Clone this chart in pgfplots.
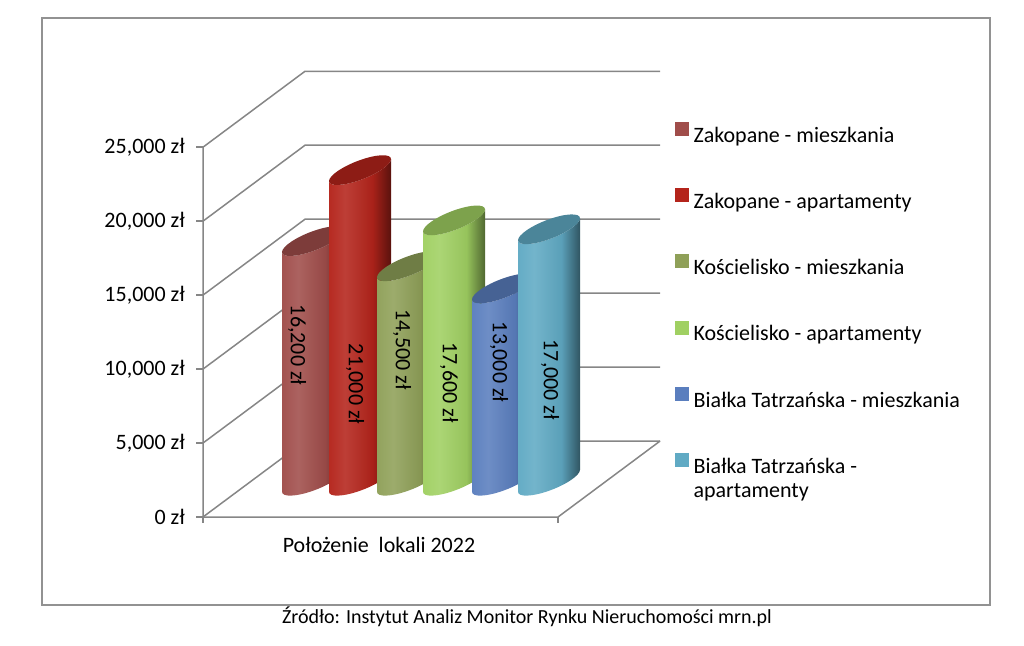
\documentclass[border=0pt]{standalone}
\usepackage{fontspec}
\setmainfont{Carlito}
\usepackage{pgfplots}
\pgfplotsset{compat=1.18}
\definecolor{cA}{RGB}{160,77,74}
\definecolor{cB}{RGB}{180,36,27}
\definecolor{cC}{RGB}{143,160,88}
\definecolor{cD}{RGB}{160,208,98}
\definecolor{cE}{RGB}{90,126,190}
\definecolor{cF}{RGB}{96,170,196}
\definecolor{gridc}{RGB}{134,134,134}
\newcommand\lblfont{\fontsize{22}{27}\selectfont}
\newcommand\mkshade[2]{\pgfdeclarehorizontalshading{#1}{100bp}{color(0bp)=(#2); color(25bp)=(#2!97!white); color(38bp)=(#2!88!white); color(60bp)=(#2!94!black); color(75bp)=(#2!50!black); color(100bp)=(#2!50!black)}}
\mkshade{shA}{cA}\mkshade{shB}{cB}\mkshade{shC}{cC}
\mkshade{shD}{cD}\mkshade{shE}{cE}\mkshade{shF}{cF}
\newcommand\cyl[4]{%
 \begingroup\pgfkeys{/pgf/fpu=true,/pgf/fpu/output format=fixed}\pgfmathparse{\rawy*0.014793}\xdef\cylh{\pgfmathresult}\endgroup
 \pgfmathsetmacro\cyly{-#3*\cylh}%
 \shade[shading=#1,draw=none] (-31pt,-11pt) -- (-31pt,{-11pt-\cylh pt}) .. controls (-31pt,{-16.52pt-\cylh pt}) and (-17.12pt,{-16.08pt-\cylh pt}) .. (0pt,{-10pt-\cylh pt}) .. controls (17.12pt,{-3.93pt-\cylh pt}) and (31pt,{5.48pt-\cylh pt}) .. (31pt,{11pt-\cylh pt}) -- (31pt,11pt) .. controls (31pt,5.48pt) and (17.12pt,-3.93pt) .. (0pt,-10pt) .. controls (-17.12pt,-16.08pt) and (-31pt,-16.52pt) .. (-31pt,-11pt) -- cycle;
 \fill[#2,draw=none] (-31pt,-11pt) .. controls (-31pt,-16.52pt) and (-17.12pt,-16.08pt) .. (0pt,-10pt) .. controls (17.12pt,-3.93pt) and (31pt,5.48pt) .. (31pt,11pt) .. controls (31pt,16.52pt) and (17.12pt,16.08pt) .. (0pt,10pt) .. controls (-17.12pt,3.93pt) and (-31pt,-5.48pt) .. (-31pt,-11pt) -- cycle;
 \node[rotate=-90,inner sep=0pt,font=\lblfont,text=black] at (#4pt,\cyly pt) {\pgfmathprintnumber[assume math mode=true,1000 sep={,}]{\rawy}~zł};
}
\pgfdeclareplotmark{cylA}{\cyl{shA}{cA!78!black}{0.434}{-16}}
\pgfdeclareplotmark{cylB}{\cyl{shB}{cB!78!black}{0.689}{-5}}
\pgfdeclareplotmark{cylC}{\cyl{shC}{cC!78!black}{0.389}{-6}}
\pgfdeclareplotmark{cylD}{\cyl{shD}{cD!78!black}{0.624}{-5}}
\pgfdeclareplotmark{cylE}{\cyl{shE}{cE!78!black}{0.383}{-4}}
\pgfdeclareplotmark{cylF}{\cyl{shF}{cF!78!black}{0.599}{1}}
\pgfplotsset{cylplot/.style 2 args={scatter, only marks, mark=#1,
  scatter/use mapped color={draw=none,fill=none},
  visualization depends on={rawy \as \rawy},
  legend image code/.code={\fill[#2] (-1pt,2pt) rectangle (12pt,15pt);}}}
\begin{document}
\begin{tikzpicture}[font=\lblfont]
\path[use as bounding box] (0pt,0pt) rectangle (1024pt,645pt);
\draw[gridc!90, line width=2pt] (42pt,40pt) rectangle (990pt,627pt);
\begin{axis}[at={(203pt,128pt)}, anchor=south west, scale only axis,
  width=457pt, height=446pt, xmin=0, xmax=457, ymin=-2450, ymax=27700,
  clip=false, axis line style={draw=none}, major tick length=0pt,
  tick style={draw=none}, scaled y ticks=false, scaled x ticks=false,
  ytick={-2450,2550,7550,12550,17550,22550},
  yticklabels={{0 zł},{5,000 zł},{10,000 zł},{15,000 zł},{20,000 zł},{25,000 zł}},
  yticklabel style={anchor=east, inner sep=0pt, xshift=-18pt},
  xtick={176}, xticklabels={Położenie\ \ lokali 2022},
  xticklabel style={anchor=north, inner sep=0pt, yshift=-20pt},
  point meta min=0, point meta max=30000,
  legend cell align=left,
  legend style={at={(1.0328,0.886)}, anchor=north west, draw=none, fill=none,
    inner sep=0pt, row sep=40pt, column sep=5pt,
    nodes={inner sep=0pt, text height=16pt, text depth=6pt}},
]
% back wall and floor
\draw[gridc, line width=1.5pt] (axis cs:0,-2450) -- (axis cs:102,2681) -- (axis cs:457,2681);
\draw[gridc, line width=1.5pt] (axis cs:0,2550) -- (axis cs:102,7681) -- (axis cs:457,7681);
\draw[gridc, line width=1.5pt] (axis cs:0,7550) -- (axis cs:102,12681) -- (axis cs:457,12681);
\draw[gridc, line width=1.5pt] (axis cs:0,12550) -- (axis cs:102,17681) -- (axis cs:457,17681);
\draw[gridc, line width=1.5pt] (axis cs:0,17550) -- (axis cs:102,22681) -- (axis cs:457,22681);
\draw[gridc, line width=1.5pt] (axis cs:0,22550) -- (axis cs:102,27681) -- (axis cs:457,27681);
\draw[gridc, line width=1.5pt] (axis cs:0,22550) -- (axis cs:0,-2450) -- (axis cs:355,-2450) -- (axis cs:457,2681);
\draw[gridc, line width=1.5pt] (axis cs:0,-2450) -- (axis cs:0,-2855);
\draw[gridc, line width=1.5pt] (axis cs:355,-2450) -- (axis cs:355,-2855);
\draw[gridc, line width=1.5pt] (axis cs:-7,-2450) -- (axis cs:0,-2450);
\draw[gridc, line width=1.5pt] (axis cs:-7,2550) -- (axis cs:0,2550);
\draw[gridc, line width=1.5pt] (axis cs:-7,7550) -- (axis cs:0,7550);
\draw[gridc, line width=1.5pt] (axis cs:-7,12550) -- (axis cs:0,12550);
\draw[gridc, line width=1.5pt] (axis cs:-7,17550) -- (axis cs:0,17550);
\draw[gridc, line width=1.5pt] (axis cs:-7,22550) -- (axis cs:0,22550);
% cylinders
\addplot[cylplot={cylA}{cA}] coordinates {(110,16200)};
\addlegendentry{Zakopane - mieszkania}
\addplot[cylplot={cylB}{cB}] coordinates {(157,21000)};
\addlegendentry{Zakopane - apartamenty}
\addplot[cylplot={cylC}{cC}] coordinates {(205,14500)};
\addlegendentry{Kościelisko - mieszkania}
\addplot[cylplot={cylD}{cD}] coordinates {(251,17600)};
\addlegendentry{Kościelisko - apartamenty}
\addplot[cylplot={cylE}{cE}] coordinates {(300,13000)};
\addlegendentry{Białka Tatrzańska - mieszkania}
\addplot[cylplot={cylF}{cF}] coordinates {(346,17000)};
\addlegendentry{\renewcommand\arraystretch{0.9}\begin{tabular}[t]{@{}l@{}}Białka Tatrzańska -\\apartamenty\end{tabular}}
\end{axis}
\node[font=\fontsize{20}{24}\selectfont] at (527pt,28pt) {Źródło: Instytut Analiz Monitor Rynku Nieruchomości mrn.pl};
\end{tikzpicture}
\end{document}
